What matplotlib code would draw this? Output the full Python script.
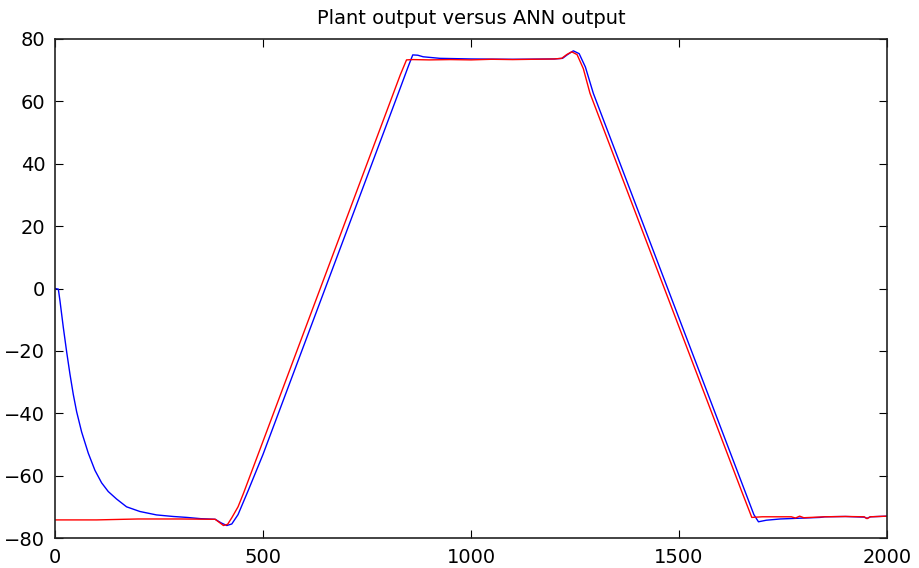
import matplotlib
matplotlib.use("Agg")
import matplotlib.pyplot as plt

# ANN output (blue)
ann_x = [0, 8, 12, 20, 28, 36, 44, 52, 64, 80, 96, 112, 128, 148, 172, 204, 244, 284,
         317, 350, 385, 400, 413, 425, 440, 465, 500, 550, 600, 650, 700, 750, 800, 830,
         850, 860, 872, 885, 925, 1000, 1100, 1200, 1220, 1232, 1246, 1260, 1275, 1294,
         1350, 1400, 1450, 1500, 1550, 1600, 1650, 1680, 1691, 1710, 1743, 1800, 1839,
         1850, 1900, 1945, 1952, 1960, 2000]
ann_y = [0, -0.2, -4.0, -12.5, -20.3, -27.5, -34.0, -39.5, -46.0, -52.8, -58.3, -62.3,
         -65.1, -67.5, -70.0, -71.5, -72.6, -73.1, -73.4, -73.8, -74.0, -75.2, -76.0,
         -75.5, -72.5, -64.6, -53.2, -35.4, -17.6, 0.2, 18.0, 35.8, 53.6, 64.3, 71.5,
         74.9, 74.8, 74.3, 73.8, 73.6, 73.5, 73.6, 73.8, 75.0, 76.2, 75.3, 71.0, 62.6,
         43.0, 25.5, 8.0, -9.5, -27.0, -44.5, -62.0, -72.5, -74.8, -74.3, -73.9, -73.6,
         -73.4, -73.2, -73.1, -73.3, -73.7, -73.2, -73.0]

# plant output (red)
plant_x = [0, 100, 200, 300, 385, 395, 405, 415, 425, 440, 453, 500, 550, 600, 650, 700,
           750, 800, 830, 845, 860, 900, 950, 1000, 1050, 1100, 1150, 1200, 1218, 1230,
           1242, 1255, 1270, 1286, 1350, 1400, 1450, 1500, 1550, 1600, 1650, 1675, 1700,
           1770, 1780, 1790, 1800, 1850, 1900, 1945, 1952, 1960, 2000]
plant_y = [-74.2, -74.2, -73.9, -73.9, -74.0, -75.0, -76.0, -75.6, -73.5, -70.0, -65.7,
           -49.0, -31.2, -13.4, 4.4, 22.2, 40.0, 57.8, 68.5, 73.3, 73.4, 73.3, 73.4, 73.3,
           73.5, 73.4, 73.5, 73.6, 73.8, 75.0, 75.9, 75.0, 70.5, 62.6, 40.2, 22.7, 5.2,
           -12.3, -29.8, -47.3, -64.8, -73.4, -73.2, -73.2, -73.6, -73.0, -73.5, -73.2,
           -73.1, -73.2, -73.8, -73.2, -73.0]

plt.rcParams['font.family'] = ['DejaVu Sans']

fig = plt.figure(figsize=(9.19, 5.68), dpi=100)
ax = fig.add_axes([55 / 919, 1 - 538 / 568, 832 / 919, 499 / 568])

ax.plot(ann_x, ann_y, color='#0000ff', linewidth=1)
ax.plot(plant_x, plant_y, color='#ff0000', linewidth=1)

ax.set_xlim(0, 2000)
ax.set_ylim(-80, 80)
ax.set_xticks([0, 500, 1000, 1500, 2000])
ax.set_yticks(range(-80, 81, 20))
ax.tick_params(direction='in', top=True, right=True, length=5.5, width=0.8,
               labelsize=14, colors='black')
ax.tick_params(axis='x', pad=7)
ax.tick_params(axis='y', pad=7)
for s in ax.spines.values():
    s.set_linewidth(1.2)
    s.set_color('#222222')

ax.set_title('Plant output versus ANN output', fontsize=14, pad=11)

fig.savefig('out.png', dpi=100)
